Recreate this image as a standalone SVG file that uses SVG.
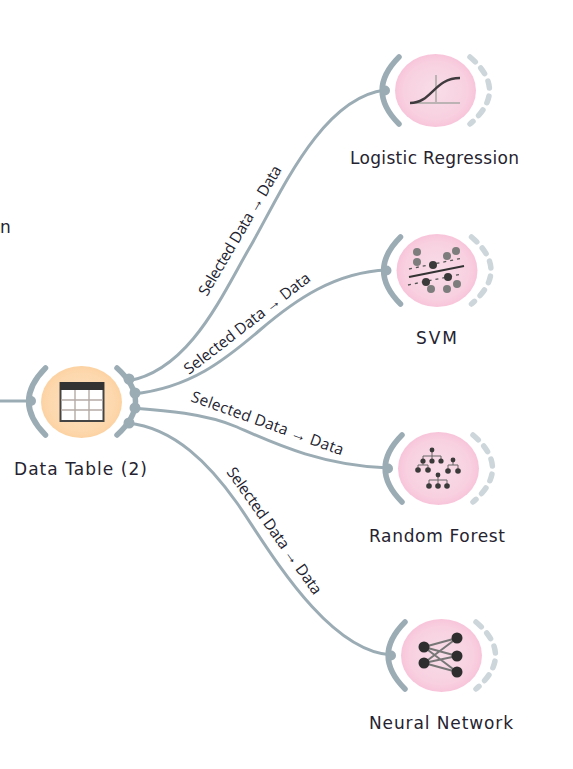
<svg xmlns="http://www.w3.org/2000/svg" width="573" height="769" viewBox="0 0 573 769">
<defs>
<radialGradient id="pink" cx="50%" cy="50%" r="50%"><stop offset="0" stop-color="#f8dde8"/><stop offset="0.8" stop-color="#f8d0e0"/><stop offset="1" stop-color="#f8c4d9"/></radialGradient>
<radialGradient id="orange" cx="50%" cy="50%" r="50%"><stop offset="0" stop-color="#fde0bd"/><stop offset="0.8" stop-color="#fdd8ae"/><stop offset="1" stop-color="#fcd2a2"/></radialGradient>
<g id="frame">
<path class="in" d="M-36.5,-33.5 Q-70,0 -36.5,33.5"/>
<circle class="port" cx="-50.5" cy="0" r="5"/>
<path class="out" d="M34.5,-33.5 Q73.5,0 34.5,33.5"/>
<ellipse class="body" rx="40.5" ry="36.5"/>
</g>
</defs>
<style>
text{font-family:"DejaVu Sans","Liberation Sans",sans-serif;font-size:17px;fill:#262330}
.edge{font-family:"Open Sans","Noto Sans",sans-serif;font-size:15.5px;fill:#23232f}
.in{fill:none;stroke:#9bacb5;stroke-width:5.5;stroke-linecap:round}
.out{fill:none;stroke:#cdd6da;stroke-width:5.5;stroke-linecap:round;stroke-dasharray:7 8.2}
.port{fill:#9bacb5}
.body{fill:url(#pink)}
.conn{fill:none;stroke:#9bacb5;stroke-width:3}
.ic{fill:#3a3a3a}
.ig{fill:#7d7d7d}
.tree{fill:none;stroke:#666;stroke-width:1}
</style>
<text x="0" y="233">n</text>
<g id="connectors">
<path class="conn" d="M0,401 L30,401"/>
<path class="conn" d="M128,381 C190,370 222,295 250,247 S320,98 385,90"/>
<path class="conn" d="M133,394 C190,388 225,360 260,330 S335,272 387,270"/>
<path class="conn" d="M133,408 C160,410 205,413 237,427 S320,466 389,468"/>
<path class="conn" d="M128,423 C175,428 210,465 237,503 S325,652 392,655"/>
</g>
<g id="edge-labels">
<text class="edge" transform="translate(207,297) rotate(-59.5)" textLength="148" lengthAdjust="spacing">Selected Data → Data</text>
<text class="edge" transform="translate(189,375) rotate(-37.7)" textLength="155" lengthAdjust="spacing">Selected Data → Data</text>
<text class="edge" transform="translate(190,401) rotate(19.8)" textLength="161" lengthAdjust="spacing">Selected Data → Data</text>
<text class="edge" transform="translate(226,472) rotate(54.6)" textLength="152" lengthAdjust="spacing">Selected Data → Data</text>
</g>
<g id="data-table">
<path class="in" d="M45.5,368 Q12,401.5 45.5,435"/>
<circle class="port" cx="31" cy="401" r="5"/>
<path class="in" d="M117,368 Q154,401.5 117,435"/>
<circle class="port" cx="129" cy="379" r="5.5"/>
<circle class="port" cx="135" cy="393" r="5.5"/>
<circle class="port" cx="135" cy="408" r="5.5"/>
<circle class="port" cx="129" cy="423" r="5.5"/>
<ellipse cx="81.5" cy="402" rx="40.5" ry="36" fill="url(#orange)"/>
<rect x="60.5" y="383" width="43" height="38" fill="#fff" stroke="#444" stroke-width="2"/>
<rect x="60" y="382" width="44" height="8" fill="#333"/>
<path d="M61,400H103M61,410H103M75,390V420M89,390V420" stroke="#b5aaa5" stroke-width="1.4" fill="none"/>
<text x="14" y="475" textLength="133" lengthAdjust="spacing">Data Table (2)</text>
</g>
<g id="logistic-regression">
<use href="#frame" x="435.5" y="90.5"/>
<path d="M436,75V103M410,103H460" stroke="#bcb4b4" stroke-width="2" fill="none"/>
<path d="M410,103 C432,103 434,78 460,78" stroke="#3f3a3d" stroke-width="2.4" fill="none"/>
<text x="350" y="164" textLength="169" lengthAdjust="spacing">Logistic Regression</text>
</g>
<g id="svm">
<use href="#frame" x="437" y="270.5"/>
<path d="M409,269L463,258M408,285L462,274" stroke="#555" stroke-width="1.3" stroke-dasharray="3 4" fill="none"/>
<path d="M409,277L464,266" stroke="#333" stroke-width="2.2" fill="none"/>
<g class="ig"><circle cx="417" cy="252" r="4"/><circle cx="417" cy="262" r="4"/><circle cx="447" cy="256" r="4"/><circle cx="456" cy="251" r="4"/><circle cx="431" cy="289" r="4"/><circle cx="447" cy="289" r="4"/><circle cx="457" cy="284" r="4"/></g>
<g class="ic"><circle cx="433" cy="265" r="4"/><circle cx="426" cy="282" r="4"/><circle cx="448" cy="277" r="4"/></g>
<text x="416" y="344" textLength="41" lengthAdjust="spacing">SVM</text>
</g>
<g id="random-forest">
<use href="#frame" x="438.5" y="468.5"/>
<path class="tree" d="M432,450V456M423,461V456H441V461M432,456V461M423,461V465M418,470V465H428V470M453,460V465M448,471V465H458V471M438,475V480M429,486V480H447V486M438,480V486"/>
<g class="ic"><circle cx="432" cy="450" r="2.4"/><circle cx="423" cy="461" r="2.6"/><circle cx="432" cy="461" r="2.6"/><circle cx="441" cy="461" r="2.6"/><circle cx="418" cy="470" r="2.8"/><circle cx="428" cy="470" r="2.8"/><circle cx="453" cy="460" r="2.4"/><circle cx="448" cy="471" r="2.8"/><circle cx="458" cy="471" r="2.8"/><circle cx="438" cy="475" r="2.4"/><circle cx="429" cy="486" r="2.8"/><circle cx="438" cy="486" r="2.8"/><circle cx="447" cy="486" r="2.8"/></g>
<text x="369" y="542" textLength="136" lengthAdjust="spacing">Random Forest</text>
</g>
<g id="neural-network">
<use href="#frame" x="441.5" y="655.5"/>
<path d="M424,647L457,638M424,647L457,656M424,647L457,672M424,663L457,638M424,663L457,656M424,663L457,672" stroke="#777" stroke-width="2" fill="none"/>
<g fill="#2e2e2e"><circle cx="424" cy="647" r="5.5"/><circle cx="424" cy="663" r="5.5"/><circle cx="457" cy="638" r="5.5"/><circle cx="457" cy="656" r="5.5"/><circle cx="457" cy="672" r="5.5"/></g>
<text x="369" y="729" textLength="144" lengthAdjust="spacing">Neural Network</text>
</g>
</svg>
